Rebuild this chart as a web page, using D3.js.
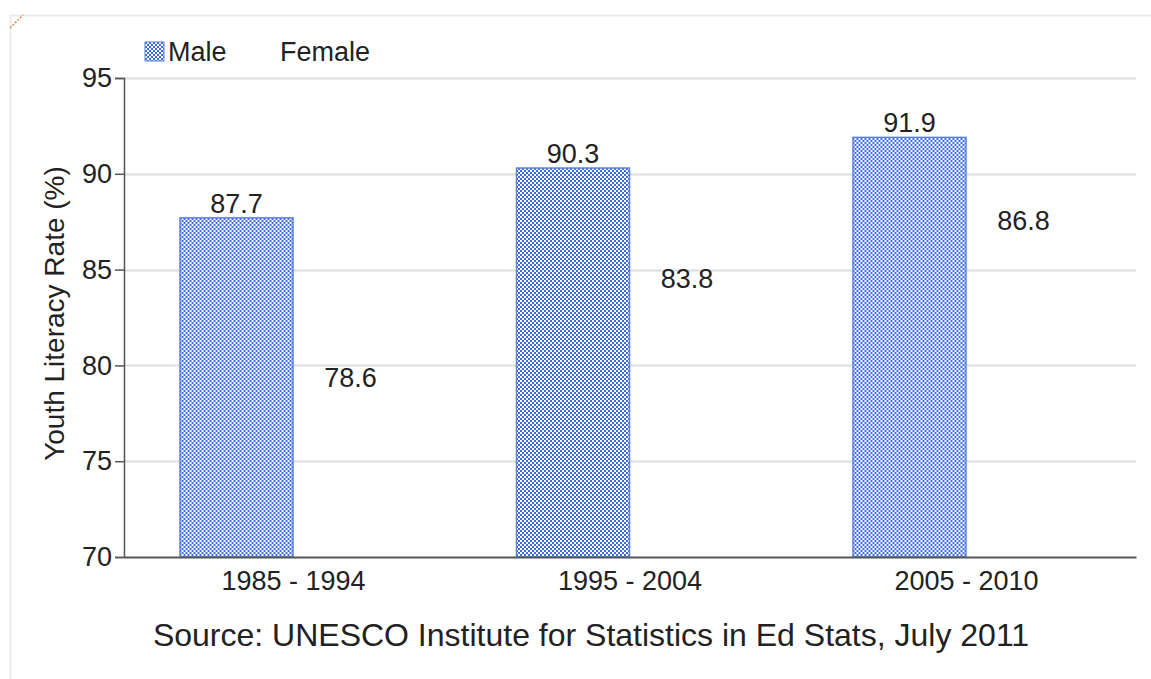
<!DOCTYPE html>
<html lang="en">
<head>
<meta charset="UTF-8">
<title>Youth Literacy Rate</title>
<style>
  body { margin: 0; background: #fff; }
  svg { display: block; font-family: "Liberation Sans", Arial, sans-serif; }
</style>
</head>
<body>
<div id="chart"></div>
<script src="https://d3js.org/d3.v7.min.js"></script>
<script>
// data
const periods = ["1985 - 1994", "1995 - 2004", "2005 - 2010"];
const series = ["Male", "Female"];
const maleValues = [87.7, 90.3, 91.9];
const femaleValues = [78.6, 83.8, 86.8];
const yTicks = [70, 75, 80, 85, 90, 95];

const width = 1151, height = 679;
const margin = { top: 78, right: 15, bottom: 122, left: 124 };
const innerW = width - margin.left - margin.right;
const innerH = height - margin.top - margin.bottom;
const fontFam = "Liberation Sans, Arial, sans-serif";

const svg = d3.select("#chart").append("svg")
  .attr("width", width)
  .attr("height", height);

// checkered fill
const defs = svg.append("defs");
const pat = defs.append("pattern")
  .attr("id", "check")
  .attr("patternUnits", "userSpaceOnUse")
  .attr("width", 4).attr("height", 4);
pat.append("rect").attr("width", 4).attr("height", 4).attr("fill", "#ffffff");
pat.append("rect").attr("width", 2).attr("height", 2).attr("fill", "#3d6be0");
pat.append("rect").attr("x", 2).attr("y", 2).attr("width", 2).attr("height", 2).attr("fill", "#3d6be0");

// outer frame lines
svg.append("line").attr("x1", 10).attr("x2", width).attr("y1", 15.5).attr("y2", 15.5)
  .attr("stroke", "#ebebeb").attr("stroke-width", 2);
svg.append("line").attr("x1", 10.5).attr("x2", 10.5).attr("y1", 15).attr("y2", height)
  .attr("stroke", "#ebebeb").attr("stroke-width", 2);
svg.append("line").attr("x1", 10).attr("y1", 28).attr("x2", 23).attr("y2", 15)
  .attr("stroke", "#e08a4a").attr("stroke-width", 1.5).attr("stroke-dasharray", "2,1.5");

const g = svg.append("g").attr("transform", `translate(${margin.left},${margin.top})`);

const y = d3.scaleLinear().domain([70, 95]).range([innerH, 0]);
const x0 = d3.scaleBand().domain(periods).range([0, innerW]).paddingInner(0.3224).paddingOuter(0.165);
const x1 = d3.scaleBand().domain(series).range([0, x0.bandwidth()]);

// grid
g.append("g").selectAll("line")
  .data(yTicks.filter(t => t > 70))
  .join("line")
  .attr("x1", 0).attr("x2", innerW)
  .attr("y1", d => Math.round(y(d)) + 0.5).attr("y2", d => Math.round(y(d)) + 0.5)
  .attr("stroke", "#dcdcdc").attr("stroke-width", 2);

// y axis
const yAxis = g.append("g")
  .call(d3.axisLeft(y).tickValues(yTicks).tickSize(9).tickPadding(3));
yAxis.select(".domain").attr("stroke", "#555").attr("stroke-width", 1.5);
yAxis.selectAll(".tick line").attr("stroke", "#555").attr("stroke-width", 1.5);
yAxis.selectAll(".tick text").attr("font-size", 27).attr("fill", "#222")
  .attr("font-family", fontFam);

const rows = periods.map((p, i) => ({ period: p, values: [
  { key: "Male", value: maleValues[i] },
  { key: "Female", value: femaleValues[i] }
]}));

const groups = g.selectAll(".grp").data(rows).join("g")
  .attr("transform", d => `translate(${x0(d.period)},0)`);

groups.selectAll("rect")
  .data(d => d.values.filter(v => v.key === "Male"))
  .join("rect")
  .attr("x", d => x1(d.key) + 0.5)
  .attr("y", d => y(d.value))
  .attr("width", x1.bandwidth() - 1)
  .attr("height", d => innerH - y(d.value))
  .attr("fill", "url(#check)")
  .attr("stroke", "#5b82d8")
  .attr("stroke-width", 1.5);

groups.selectAll("text.val")
  .data(d => d.values)
  .join("text")
  .attr("class", "val")
  .attr("x", d => x1(d.key) + x1.bandwidth() / 2)
  .attr("y", d => y(d.value) - 5)
  .attr("text-anchor", "middle")
  .attr("font-size", 27)
  .attr("fill", "#222")
  .text(d => d.value.toFixed(1));

// x axis
const xAxis = g.append("g").attr("transform", `translate(0,${innerH})`)
  .call(d3.axisBottom(x0).tickSize(0).tickPadding(14));
xAxis.select(".domain").attr("stroke", "#555").attr("stroke-width", 2);
xAxis.selectAll(".tick text").attr("font-size", 27).attr("fill", "#222")
  .attr("font-family", fontFam);

// axis title
svg.append("text")
  .attr("transform", `translate(64,${margin.top + innerH / 2 - 4}) rotate(-90)`)
  .attr("text-anchor", "middle")
  .attr("font-size", 28)
  .attr("fill", "#222")
  .text("Youth Literacy Rate (%)");

// source
svg.append("text")
  .attr("x", 591).attr("y", 646)
  .attr("text-anchor", "middle")
  .attr("font-size", 32)
  .attr("fill", "#222")
  .text("Source: UNESCO Institute for Statistics in Ed Stats, July 2011");

// legend
const legend = svg.append("g").attr("transform", "translate(145,42)");
legend.append("rect").attr("width", 19).attr("height", 19)
  .attr("fill", "url(#check)").attr("stroke", "#5b82d8").attr("stroke-width", 1);
legend.append("text").attr("x", 23).attr("y", 19).attr("font-size", 27).attr("fill", "#222").text(series[0]);
legend.append("text").attr("x", 135).attr("y", 19).attr("font-size", 27).attr("fill", "#222").text(series[1]);
</script>
</body>
</html>
